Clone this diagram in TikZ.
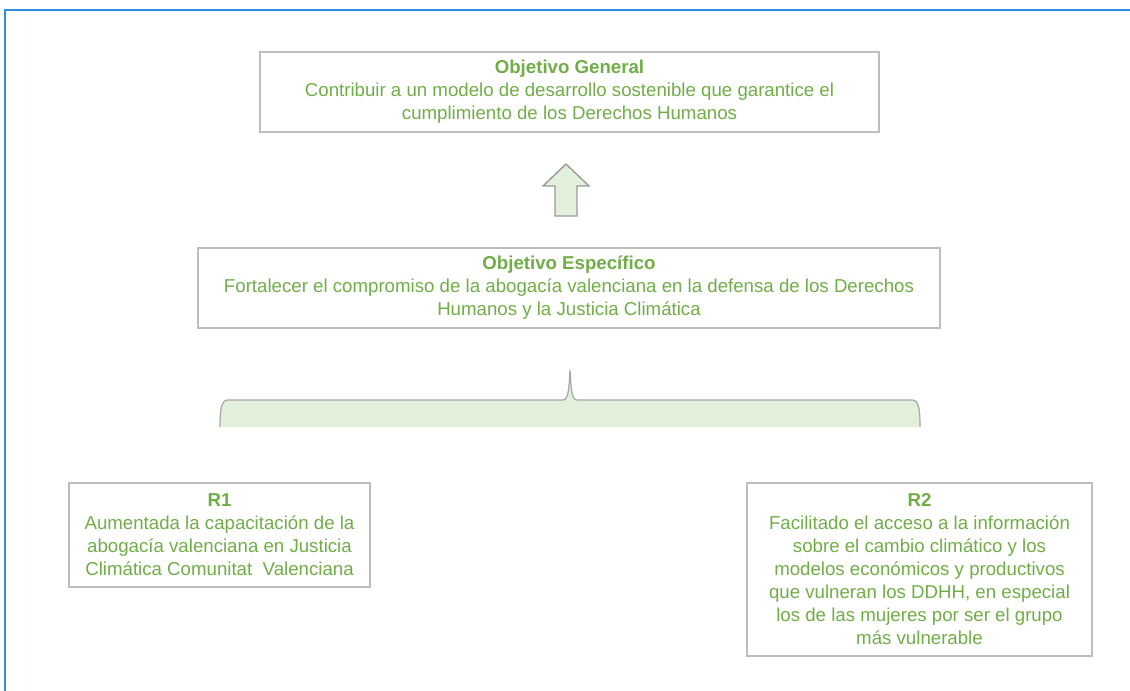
\documentclass[tikz,border=0pt]{standalone}
\usepackage{fontspec}
\setmainfont{Liberation Sans}
\usetikzlibrary{positioning}
\definecolor{txtgreen}{HTML}{70AD47}
\definecolor{boxgray}{HTML}{BDBDBD}
\definecolor{palegreen}{HTML}{E2EFDA}
\definecolor{framblue}{HTML}{2E8FE0}
\tikzset{
	objbox/.style={draw=boxgray, line width=1pt, align=center, text=txtgreen, inner sep=0pt,
		font=\fontsize{14}{17.25}\selectfont},
}
\begin{document}
\begin{tikzpicture}[x=0.75pt, y=-0.75pt]
	\useasboundingbox (0,0) rectangle (1130,691);
	\draw[framblue, line width=1.1pt] (5,691) -- (5,10) -- (1130,10);
	\node[objbox, minimum width=619*0.75pt, minimum height=80*0.75pt] (general) at (569.5,92)
		{\textbf{Objetivo General}\\Contribuir a un modelo de desarrollo sostenible que garantice el\\cumplimiento de los Derechos Humanos};
	\node[objbox, minimum width=742*0.75pt, minimum height=80*0.75pt] (especifico) at (569,288)
		{\textbf{Objetivo Espec\'ifico}\\Fortalecer el compromiso de la abogac\'ia valenciana en la defensa de los Derechos\\Humanos y la Justicia Clim\'atica};
	\node[objbox, minimum width=301*0.75pt, minimum height=104*0.75pt] (r1) at (219.5,535)
		{\textbf{R1}\\Aumentada la capacitaci\'on de la\\abogac\'ia valenciana en Justicia\\Clim\'atica Comunitat\ \ Valenciana};
	\node[objbox, minimum width=345*0.75pt, minimum height=173*0.75pt] (r2) at (919.5,569.5)
		{\textbf{R2}\\Facilitado el acceso a la informaci\'on\\sobre el cambio clim\'atico y los\\modelos econ\'omicos y productivos\\que vulneran los DDHH, en especial\\los de las mujeres por ser el grupo\\m\'as vulnerable};
	% block arrow
	\draw[draw=gray!80, fill=palegreen, line width=1pt, line join=miter]
		(566,164) -- (589,186) -- (577,186) -- (577,216) -- (555,216) -- (555,186) -- (543,186) -- cycle;
	% brace
	\fill[palegreen] (220,427) .. controls (220,410) and (221,400) .. (228,400) -- (563,400)
		.. controls (569,400) and (569,385) .. (570,370) .. controls (571,385) and (571,400) .. (577,400)
		-- (912,400) .. controls (919,400) and (920,410) .. (920,427) -- cycle;
	\draw[gray!70, line width=0.9pt] (220,427) .. controls (220,410) and (221,400) .. (228,400) -- (563,400)
		.. controls (569,400) and (569,385) .. (570,370) .. controls (571,385) and (571,400) .. (577,400)
		-- (912,400) .. controls (919,400) and (920,410) .. (920,427);
\end{tikzpicture}
\end{document}
